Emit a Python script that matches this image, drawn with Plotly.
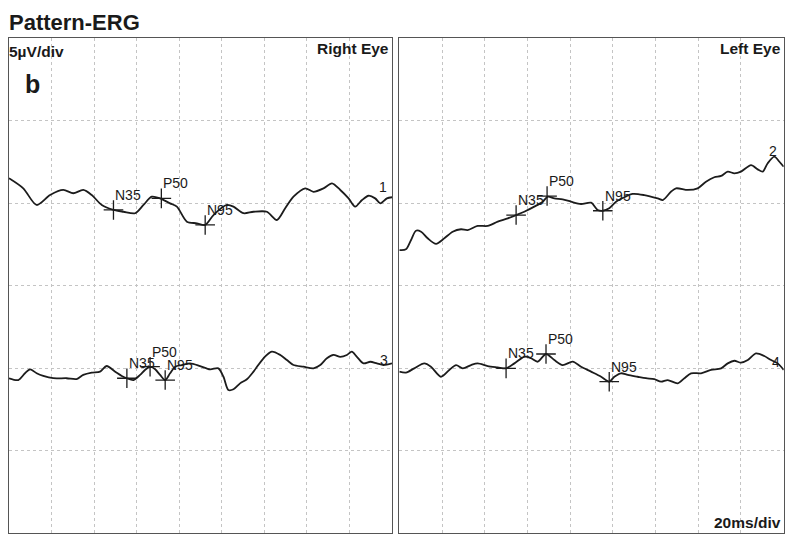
import plotly.graph_objects as go

# ---------------- data (time in ms, amplitude in µV relative to channel baseline) ----------------
t1 = [0, 6.7, 13.0, 19.3, 25.5, 30.2, 34.9, 38.9, 43.6, 49.1, 53.8, 59.3, 63.2, 67.1, 71.0, 75.7,
      78.9, 83.6, 88.3, 92.2, 96.1, 102.4, 105.5, 110.2, 114.9, 121.2, 125.9, 129.8, 133.7, 139.2,
      143.1, 147.8, 151.8, 155.7, 159.6, 162.7, 165.9, 169.0, 172.1, 174.5, 177.6, 180]
v1 = [1.50, 0.89, -0.12, 0.48, 0.79, 0.59, 0.79, 0.48, -0.12, -0.42, -0.53, -0.62, -0.12, 0.38, 0.28, -0.02,
      -0.22, -1.13, -1.23, -1.33, -0.73, -0.12, -0.22, -0.62, -0.53, -0.53, -1.03, -0.32, 0.38, 0.89,
      0.68, 0.89, 1.19, 0.79, 0.28, -0.22, 0.18, 0.44, 0.28, -0.02, 0.28, 0.35]

t2 = [0, 3.1, 5.5, 7.8, 10.2, 13.3, 17.2, 21.1, 25.0, 28.9, 32.0, 36.7, 41.4, 46.1, 50.8, 54.7, 58.5,
      63.2, 67.2, 69.5, 72.6, 76.5, 80.4, 85.1, 89.8, 92.9, 95.3, 98.3, 101.5, 105.4, 109.3, 114.7,
      121.0, 123.4, 127.2, 129.6, 135.1, 139.7, 143.6, 147.5, 150.7, 153.8, 156.9, 160.0, 164.7,
      167.8, 170.2, 172.5, 175.6, 178.0, 180]
v2 = [-2.85, -2.81, -2.24, -1.68, -1.74, -2.14, -2.48, -2.14, -1.74, -1.59, -1.64, -1.39, -1.39, -1.13,
      -0.93, -0.73, -0.53, -0.22, 0.08, 0.38, 0.28, 0.22, 0.08, -0.06, 0.02, -0.42, -0.47, -0.32, 0.08,
      0.35, 0.55, 0.48, 0.28, 0.18, 0.68, 0.89, 0.79, 0.89, 1.29, 1.56, 1.64, 1.90, 1.80, 1.90, 2.30,
      2.04, 1.90, 2.41, 2.81, 2.50, 2.20]

t3 = [0, 4.4, 7.5, 9.9, 13.0, 16.1, 20.8, 27.1, 31.8, 34.9, 38.9, 42.8, 45.9, 49.9, 53.0, 55.4, 58.5,
      61.6, 63.9, 66.3, 68.7, 71.0, 73.4, 75.7, 78.1, 81.2, 85.1, 89.8, 94.5, 98.4, 100.8, 103.1, 105.5,
      108.6, 111.8, 114.9, 119.6, 123.5, 127.5, 130.6, 133.7, 138.4, 143.1, 146.3, 149.4, 152.5, 155.7,
      158.8, 161.1, 163.5, 166.6, 169.8, 172.9, 176.0, 180]
v3 = [-0.62, -0.73, -0.32, -0.08, -0.32, -0.48, -0.62, -0.62, -0.67, -0.42, -0.28, -0.22, 0.12, -0.22,
      -0.48, -0.62, -0.73, -0.42, -0.12, 0.08, -0.08, -0.42, -0.73, -0.32, 0.08, 0.18, 0.28, 0.12, -0.08,
      -0.02, -0.53, -1.33, -1.29, -0.93, -0.68, -0.22, 0.59, 0.99, 0.79, 0.48, 0.18, 0.08, -0.02, 0.18,
      0.59, 0.79, 0.68, 0.79, 0.99, 0.68, 0.28, 0.38, 0.28, 0.18, 0.28]

t4 = [0, 3.1, 7.0, 11.7, 14.8, 19.5, 23.4, 26.6, 29.7, 33.6, 36.7, 41.4, 46.1, 50.0, 53.9, 58.5, 61.7,
      64.8, 68.7, 72.6, 76.5, 81.2, 85.1, 89.8, 94.5, 98.3, 100.7, 103.8, 107.0, 111.6, 115.5, 119.4,
      122.6, 125.7, 130.4, 133.5, 136.6, 141.3, 146.0, 150.7, 153.8, 156.9, 160.0, 163.2, 167.0, 170.9,
      174.1, 177.2, 180]
v4 = [-0.22, -0.28, -0.02, 0.28, 0.08, -0.53, -0.12, 0.18, -0.02, 0.18, 0.28, 0.12, 0.04, -0.02, 0.28,
      0.68, 0.59, 0.38, 0.85, 0.48, 0.18, 0.38, 0.08, -0.22, -0.53, -0.83, -0.53, -0.32, -0.42, -0.53,
      -0.62, -0.68, -0.83, -0.73, -0.93, -0.62, -0.32, -0.32, -0.12, -0.02, 0.28, 0.44, 0.32, 0.48, 0.89,
      0.73, 0.48, 0.28, -0.12]

peak_names = ["N35", "P50", "N95"]
pk1_t = [49.1, 71.6, 92.2]
pk1_v = [-0.42, 0.28, -1.33]
pk2_t = [54.7, 69.2, 95.3]
pk2_v = [-0.73, 0.42, -0.47]
pk3_t = [55.4, 66.3, 73.4]
pk3_v = [-0.62, 0.08, -0.73]
pk4_t = [50.0, 68.7, 98.3]
pk4_v = [-0.02, 0.85, -0.83]

channel_names = ["1", "2", "3", "4"]
eye_names = ["Right Eye", "Left Eye"]

# ---------------- layout constants ----------------
W, H = 791, 535
FONT = "Liberation Sans, Arial, sans-serif"
LINE_C = "#1c1c1c"
offsets = [20, 20, 10, 10]          # display baseline of each channel (µV)
axes_of = [("x", "y"), ("x2", "y2"), ("x", "y"), ("x2", "y2")]
num_pos = [(175.9, 20.97), (175.0, 23.15), (176.4, 10.48), (176.4, 10.36)]

series = [(t1, v1, pk1_t, pk1_v), (t2, v2, pk2_t, pk2_v),
          (t3, v3, pk3_t, pk3_v), (t4, v4, pk4_t, pk4_v)]

fig = go.Figure()
annotations = []
for i, (t, v, pt, pv) in enumerate(series):
    xa, ya = axes_of[i]
    off = offsets[i]
    fig.add_trace(go.Scatter(
        x=t, y=[off + a for a in v], xaxis=xa, yaxis=ya, mode="lines",
        line=dict(color=LINE_C, width=1.8, shape="spline", smoothing=0.8),
        hoverinfo="skip", showlegend=False))
    fig.add_trace(go.Scatter(
        x=pt, y=[off + a for a in pv], xaxis=xa, yaxis=ya, mode="markers",
        marker=dict(symbol="cross-thin", size=14, line=dict(color=LINE_C, width=1.3)),
        hoverinfo="skip", showlegend=False))
    for name, x0, y0 in zip(peak_names, pt, pv):
        annotations.append(dict(
            x=x0, y=off + y0, xref=xa, yref=ya, text=name, showarrow=False,
            xanchor="left", yanchor="middle", xshift=0, yshift=15,
            font=dict(family=FONT, size=14, color="#1a1a1a")))
    nx, ny = num_pos[i]
    annotations.append(dict(
        x=nx, y=ny, xref=xa, yref=ya, text=channel_names[i], showarrow=False,
        xanchor="center", yanchor="middle",
        font=dict(family=FONT, size=14, color="#1a1a1a")))

def px(xp):
    return xp / W

def py(yp):
    return 1 - yp / H

bold = dict(family=FONT, color="#1a1a1a")
annotations += [
    dict(x=px(7), y=py(22), xref="paper", yref="paper", text="<b>Pattern-ERG</b>", showarrow=False,
         xanchor="left", yanchor="middle", font=dict(size=22, **bold)),
    dict(x=px(7), y=py(51), xref="paper", yref="paper", text="<b>5µV/div</b>", showarrow=False,
         xanchor="left", yanchor="middle", font=dict(size=15.5, **bold)),
    dict(x=px(391), y=py(49), xref="paper", yref="paper", text="<b>" + eye_names[0] + "</b>", showarrow=False,
         xanchor="right", yanchor="middle", font=dict(size=15.5, **bold)),
    dict(x=px(783), y=py(49), xref="paper", yref="paper", text="<b>" + eye_names[1] + "</b>", showarrow=False,
         xanchor="right", yanchor="middle", font=dict(size=15.5, **bold)),
    dict(x=px(783), y=py(522), xref="paper", yref="paper", text="<b>20ms/div</b>", showarrow=False,
         xanchor="right", yanchor="middle", font=dict(size=15.5, **bold)),
    dict(x=px(23), y=py(84), xref="paper", yref="paper", text="<b>b</b>", showarrow=False,
         xanchor="left", yanchor="middle", font=dict(size=25, **bold)),
]

ax_common = dict(range=[0, 180], dtick=20, tick0=0, showgrid=True, gridcolor="#c4c4c4",
                 griddash="dot", gridwidth=1, showticklabels=False, ticks="", zeroline=False,
                 showline=True, mirror=True, linecolor="#555", linewidth=1, fixedrange=True)
ay_common = dict(range=[0, 30], dtick=5, tick0=0, showgrid=True, gridcolor="#c4c4c4",
                 griddash="dot", gridwidth=1, showticklabels=False, ticks="", zeroline=False,
                 showline=True, mirror=True, linecolor="#555", linewidth=1, fixedrange=True)

ydom = [1 - 533 / H, 1 - 38 / H]
fig.update_layout(
    width=W, height=H, margin=dict(l=0, r=0, t=0, b=0),
    paper_bgcolor="white", plot_bgcolor="white",
    xaxis=dict(domain=[px(9), px(392)], anchor="y", **ax_common),
    yaxis=dict(domain=ydom, anchor="x", **ay_common),
    xaxis2=dict(domain=[px(399.3), px(783.7)], anchor="y2", **ax_common),
    yaxis2=dict(domain=ydom, anchor="x2", **ay_common),
    annotations=annotations,
    showlegend=False,
)

fig.write_html("out.html", config={"displayModeBar": False},
               post_script="document.body.style.margin='0';document.body.style.overflow='hidden';")
